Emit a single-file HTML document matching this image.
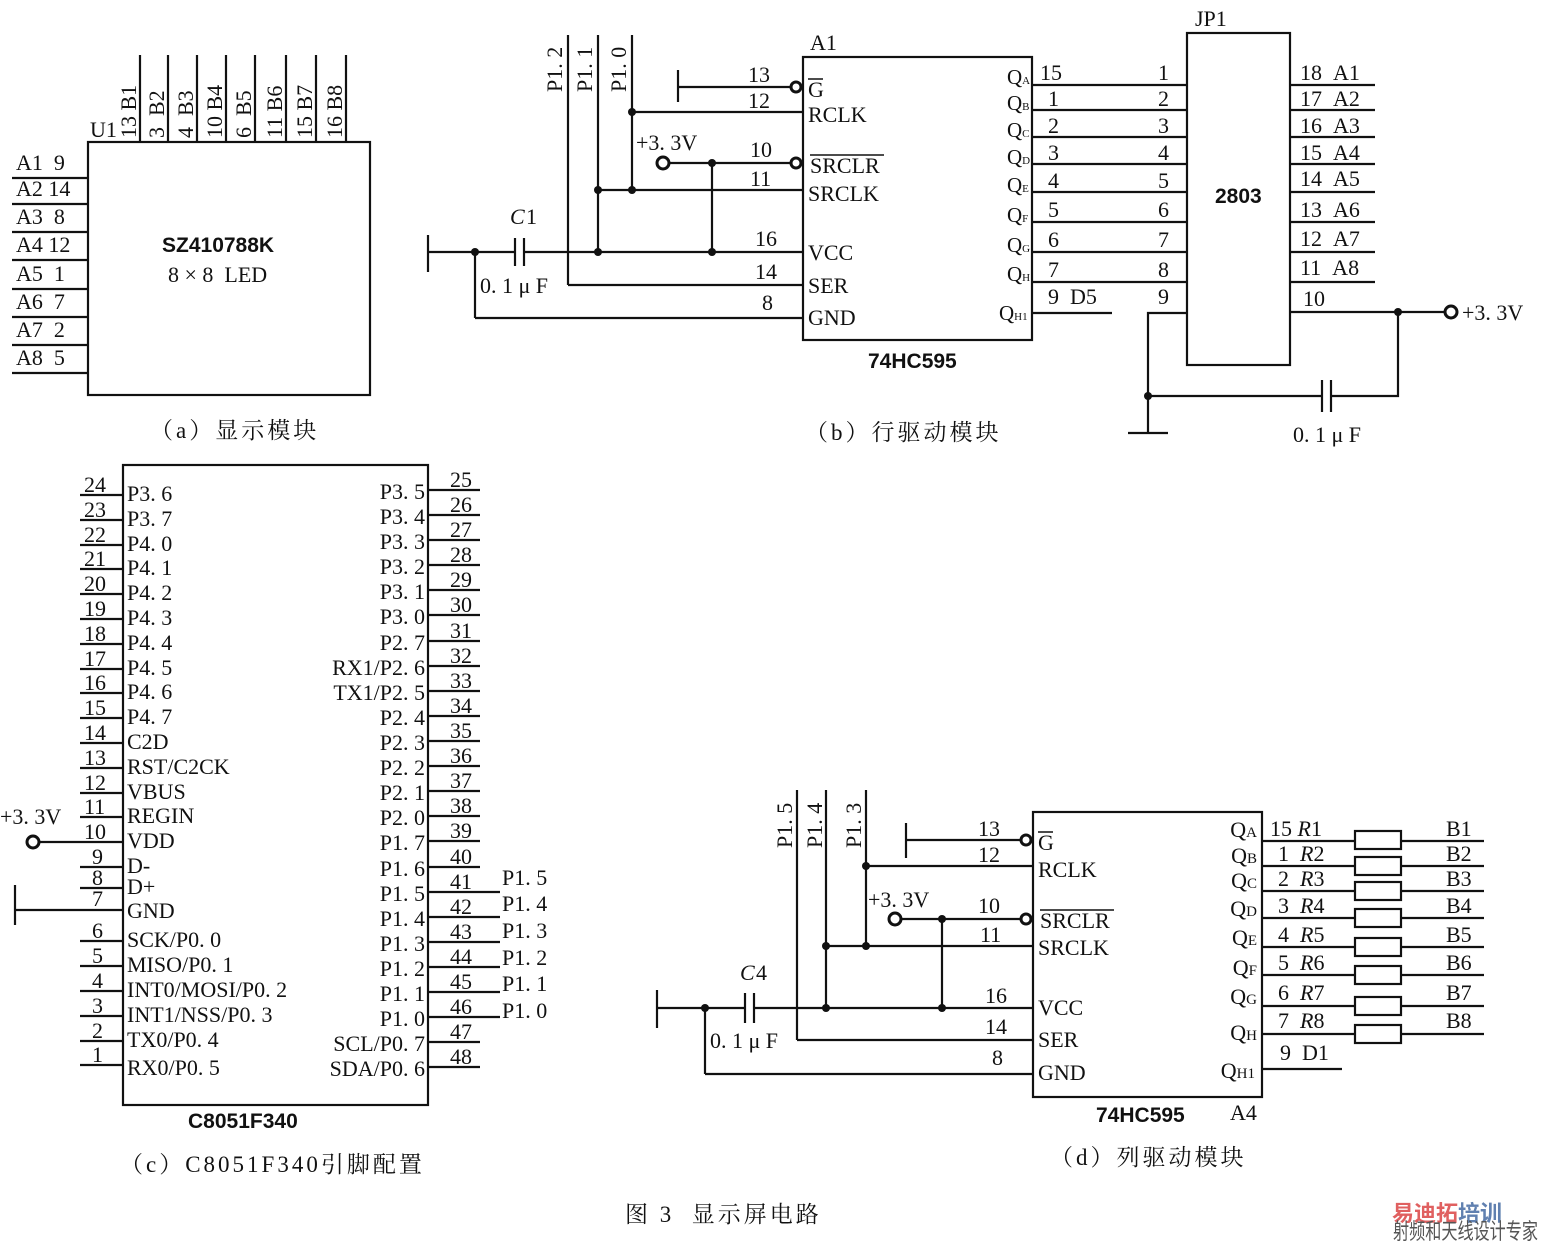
<!DOCTYPE html>
<html><head><meta charset="utf-8"><style>
body{margin:0;background:#fff}
svg{display:block}
text{font-family:"Liberation Serif","Noto Serif CJK SC",serif;font-size:22px;fill:#111}
.s{font-family:"Liberation Sans",sans-serif;font-weight:bold;font-size:21px}
.c{font-family:"Liberation Serif","Noto Serif CJK SC",serif;font-size:23px;letter-spacing:3px}
.q{font-size:21px}
.q tspan{font-size:11px}
line,polyline,rect,path{stroke:#111;stroke-width:2.2;fill:none}
.d{fill:#111;stroke:none}
.b{fill:#fff;stroke:#111;stroke-width:3}
</style></head><body>
<svg width="1546" height="1244" viewBox="0 0 1546 1244" xmlns="http://www.w3.org/2000/svg">
<!-- (a) -->
<rect x="88" y="142" width="282" height="253"/>
<text x="90" y="137">U1</text>
<g>
<line x1="140" y1="55" x2="140" y2="142"/><line x1="168" y1="55" x2="168" y2="142"/><line x1="197" y1="55" x2="197" y2="142"/><line x1="226" y1="55" x2="226" y2="142"/><line x1="255" y1="55" x2="255" y2="142"/><line x1="286" y1="55" x2="286" y2="142"/><line x1="316" y1="55" x2="316" y2="142"/><line x1="346" y1="55" x2="346" y2="142"/>
<text transform="translate(136,138) rotate(-90)">13 B1</text>
<text transform="translate(164,138) rotate(-90)">3 &#160;B2</text>
<text transform="translate(193,138) rotate(-90)">4 &#160;B3</text>
<text transform="translate(222,138) rotate(-90)">10 B4</text>
<text transform="translate(251,138) rotate(-90)">6 &#160;B5</text>
<text transform="translate(282,138) rotate(-90)">11 B6</text>
<text transform="translate(312,138) rotate(-90)">15 B7</text>
<text transform="translate(342,138) rotate(-90)">16 B8</text>
</g>
<g>
<line x1="12" y1="178" x2="88" y2="178"/><text x="16" y="170">A1 &#160;9</text>
<line x1="12" y1="204" x2="88" y2="204"/><text x="16" y="196">A2 14</text>
<line x1="12" y1="232" x2="88" y2="232"/><text x="16" y="224">A3 &#160;8</text>
<line x1="12" y1="260" x2="88" y2="260"/><text x="16" y="252">A4 12</text>
<line x1="12" y1="289" x2="88" y2="289"/><text x="16" y="281">A5 &#160;1</text>
<line x1="12" y1="317" x2="88" y2="317"/><text x="16" y="309">A6 &#160;7</text>
<line x1="12" y1="345" x2="88" y2="345"/><text x="16" y="337">A7 &#160;2</text>
<line x1="12" y1="373" x2="88" y2="373"/><text x="16" y="365">A8 &#160;5</text>
</g>
<text class="s" x="162" y="252">SZ410788K</text>
<text x="168" y="282">8 × 8 &#160;LED</text>
<text class="c" x="150" y="438">（a）显示模块</text>

<!-- (b) -->
<rect x="803" y="57" width="229" height="283"/>
<text x="810" y="50">A1</text>
<text class="s" x="868" y="368">74HC595</text>
<text x="808" y="97">G</text><line x1="808" y1="79" x2="823" y2="79" style="stroke-width:1.5"/>
<text x="808" y="122">RCLK</text>
<text x="810" y="173">SRCLR</text><line x1="810" y1="155" x2="884" y2="155" style="stroke-width:1.5"/>
<text x="808" y="201">SRCLK</text>
<text x="808" y="260">VCC</text>
<text x="808" y="293">SER</text>
<text x="808" y="325">GND</text>
<line x1="678" y1="70" x2="678" y2="102"/><line x1="678" y1="87" x2="790" y2="87"/><circle class="b" cx="796" cy="87" r="5"/><text x="748" y="82">13</text>
<line x1="632" y1="112" x2="803" y2="112"/><text x="748" y="108">12</text>
<circle class="b" cx="663" cy="163" r="6"/><line x1="669" y1="163" x2="790" y2="163"/><circle class="b" cx="796" cy="163" r="5"/><text x="750" y="157">10</text><text x="636" y="150">+3. 3V</text>
<line x1="598" y1="190" x2="803" y2="190"/><text x="750" y="186">11</text>
<line x1="428" y1="235" x2="428" y2="272"/><line x1="428" y1="252" x2="515" y2="252"/><line x1="515" y1="238" x2="515" y2="266"/><line x1="524" y1="238" x2="524" y2="266"/><line x1="524" y1="252" x2="803" y2="252"/><text x="755" y="246">16</text>
<text x="510" y="224" font-style="italic">C</text><text x="526" y="224">1</text>
<text x="480" y="293">0. 1 μ F</text>
<line x1="568" y1="35" x2="568" y2="285"/><line x1="568" y1="285" x2="803" y2="285"/><text x="755" y="279">14</text>
<line x1="475" y1="252" x2="475" y2="318"/><line x1="475" y1="318" x2="803" y2="318"/><text x="762" y="310">8</text>
<line x1="598" y1="35" x2="598" y2="252"/><line x1="632" y1="35" x2="632" y2="190"/><line x1="712" y1="163" x2="712" y2="252"/>
<text transform="translate(562,92) rotate(-90)">P1. 2</text>
<text transform="translate(592,92) rotate(-90)">P1. 1</text>
<text transform="translate(626,92) rotate(-90)">P1. 0</text>
<circle class="d" cx="475" cy="252" r="4"/><circle class="d" cx="598" cy="252" r="4"/><circle class="d" cx="712" cy="252" r="4"/><circle class="d" cx="598" cy="190" r="4"/><circle class="d" cx="632" cy="190" r="4"/><circle class="d" cx="632" cy="112" r="4"/><circle class="d" cx="712" cy="163" r="4"/>
<g>
<line x1="1032" y1="85" x2="1187" y2="85"/><line x1="1032" y1="110" x2="1187" y2="110"/><line x1="1032" y1="137" x2="1187" y2="137"/><line x1="1032" y1="164" x2="1187" y2="164"/><line x1="1032" y1="192" x2="1187" y2="192"/><line x1="1032" y1="222" x2="1187" y2="222"/><line x1="1032" y1="252" x2="1187" y2="252"/><line x1="1032" y1="282" x2="1187" y2="282"/>
<line x1="1032" y1="313" x2="1112" y2="313"/>
<text x="1040" y="80">15</text><text x="1048" y="106">1</text><text x="1048" y="133">2</text><text x="1048" y="160">3</text><text x="1048" y="188">4</text><text x="1048" y="217">5</text><text x="1048" y="247">6</text><text x="1048" y="277">7</text><text x="1048" y="304">9 &#160;D5</text>
<text x="1158" y="80">1</text><text x="1158" y="106">2</text><text x="1158" y="133">3</text><text x="1158" y="160">4</text><text x="1158" y="188">5</text><text x="1158" y="217">6</text><text x="1158" y="247">7</text><text x="1158" y="277">8</text><text x="1158" y="304">9</text>
<text class="q" x="1007" y="84">Q<tspan>A</tspan></text><text class="q" x="1007" y="110">Q<tspan>B</tspan></text><text class="q" x="1007" y="137">Q<tspan>C</tspan></text><text class="q" x="1007" y="164">Q<tspan>D</tspan></text><text class="q" x="1007" y="192">Q<tspan>E</tspan></text><text class="q" x="1007" y="222">Q<tspan>F</tspan></text><text class="q" x="1007" y="252">Q<tspan>G</tspan></text><text class="q" x="1007" y="281">Q<tspan>H</tspan></text><text class="q" x="999" y="320">Q<tspan>H1</tspan></text>
</g>
<rect x="1187" y="33" width="103" height="332"/>
<text x="1195" y="26">JP1</text>
<text class="s" x="1215" y="203">2803</text>
<g>
<line x1="1290" y1="85" x2="1375" y2="85"/><text x="1300" y="80">18 &#160;A1</text>
<line x1="1290" y1="110" x2="1375" y2="110"/><text x="1300" y="106">17 &#160;A2</text>
<line x1="1290" y1="137" x2="1375" y2="137"/><text x="1300" y="133">16 &#160;A3</text>
<line x1="1290" y1="164" x2="1375" y2="164"/><text x="1300" y="160">15 &#160;A4</text>
<line x1="1290" y1="192" x2="1375" y2="192"/><text x="1300" y="186">14 &#160;A5</text>
<line x1="1290" y1="222" x2="1375" y2="222"/><text x="1300" y="217">13 &#160;A6</text>
<line x1="1290" y1="252" x2="1375" y2="252"/><text x="1300" y="246">12 &#160;A7</text>
<line x1="1290" y1="282" x2="1375" y2="282"/><text x="1300" y="275">11 &#160;A8</text>
<line x1="1290" y1="312" x2="1445" y2="312"/><text x="1303" y="306">10</text>
<circle class="b" cx="1451" cy="312" r="6"/><text x="1462" y="320">+3. 3V</text>
</g>
<polyline points="1187,313 1148,313 1148,433"/><line x1="1128" y1="433" x2="1168" y2="433"/>
<line x1="1148" y1="396" x2="1322" y2="396"/><line x1="1322" y1="380" x2="1322" y2="412"/><line x1="1331" y1="380" x2="1331" y2="412"/><polyline points="1331,396 1398,396 1398,312"/>
<circle class="d" cx="1148" cy="396" r="4"/><circle class="d" cx="1398" cy="312" r="4"/>
<text x="1293" y="442">0. 1 μ F</text>
<text class="c" x="805" y="440">（b）行驱动模块</text>

<!-- (c) -->
<rect x="123" y="465" width="305" height="640"/>
<text class="s" x="188" y="1128">C8051F340</text>
<g>
<line x1="80" y1="495" x2="123" y2="495"/><text x="84" y="492">24</text><text x="127" y="501">P3. 6</text>
<line x1="80" y1="520" x2="123" y2="520"/><text x="84" y="517">23</text><text x="127" y="526">P3. 7</text>
<line x1="80" y1="545" x2="123" y2="545"/><text x="84" y="542">22</text><text x="127" y="551">P4. 0</text>
<line x1="80" y1="569" x2="123" y2="569"/><text x="84" y="566">21</text><text x="127" y="575">P4. 1</text>
<line x1="80" y1="594" x2="123" y2="594"/><text x="84" y="591">20</text><text x="127" y="600">P4. 2</text>
<line x1="80" y1="619" x2="123" y2="619"/><text x="84" y="616">19</text><text x="127" y="625">P4. 3</text>
<line x1="80" y1="644" x2="123" y2="644"/><text x="84" y="641">18</text><text x="127" y="650">P4. 4</text>
<line x1="80" y1="669" x2="123" y2="669"/><text x="84" y="666">17</text><text x="127" y="675">P4. 5</text>
<line x1="80" y1="693" x2="123" y2="693"/><text x="84" y="690">16</text><text x="127" y="699">P4. 6</text>
<line x1="80" y1="718" x2="123" y2="718"/><text x="84" y="715">15</text><text x="127" y="724">P4. 7</text>
<line x1="80" y1="743" x2="123" y2="743"/><text x="84" y="740">14</text><text x="127" y="749">C2D</text>
<line x1="80" y1="768" x2="123" y2="768"/><text x="84" y="765">13</text><text x="127" y="774">RST/C2CK</text>
<line x1="80" y1="793" x2="123" y2="793"/><text x="84" y="790">12</text><text x="127" y="799">VBUS</text>
<line x1="80" y1="817" x2="123" y2="817"/><text x="84" y="814">11</text><text x="127" y="823">REGIN</text>
<line x1="40" y1="842" x2="123" y2="842"/><text x="84" y="839">10</text><text x="127" y="848">VDD</text>
<circle class="b" cx="33" cy="842" r="6"/><text x="0" y="824">+3. 3V</text>
<line x1="80" y1="867" x2="123" y2="867"/><text x="92" y="864">9</text><text x="127" y="873">D-</text>
<line x1="80" y1="888" x2="123" y2="888"/><text x="92" y="885">8</text><text x="127" y="894">D+</text>
<line x1="15" y1="910" x2="123" y2="910"/><line x1="15" y1="885" x2="15" y2="925"/><text x="92" y="906">7</text><text x="127" y="918">GND</text>
<line x1="80" y1="941" x2="123" y2="941"/><text x="92" y="938">6</text><text x="127" y="947">SCK/P0. 0</text>
<line x1="80" y1="966" x2="123" y2="966"/><text x="92" y="963">5</text><text x="127" y="972">MISO/P0. 1</text>
<line x1="80" y1="991" x2="123" y2="991"/><text x="92" y="988">4</text><text x="127" y="997">INT0/MOSI/P0. 2</text>
<line x1="80" y1="1016" x2="123" y2="1016"/><text x="92" y="1013">3</text><text x="127" y="1022">INT1/NSS/P0. 3</text>
<line x1="80" y1="1041" x2="123" y2="1041"/><text x="92" y="1038">2</text><text x="127" y="1047">TX0/P0. 4</text>
<line x1="80" y1="1065" x2="123" y2="1065"/><text x="92" y="1062">1</text><text x="127" y="1075">RX0/P0. 5</text>
</g>
<g text-anchor="end">
<line x1="428" y1="490" x2="480" y2="490"/><text x="472" y="487">25</text><text x="425" y="499">P3. 5</text>
<line x1="428" y1="515" x2="480" y2="515"/><text x="472" y="512">26</text><text x="425" y="524">P3. 4</text>
<line x1="428" y1="540" x2="480" y2="540"/><text x="472" y="537">27</text><text x="425" y="549">P3. 3</text>
<line x1="428" y1="565" x2="480" y2="565"/><text x="472" y="562">28</text><text x="425" y="574">P3. 2</text>
<line x1="428" y1="590" x2="480" y2="590"/><text x="472" y="587">29</text><text x="425" y="599">P3. 1</text>
<line x1="428" y1="615" x2="480" y2="615"/><text x="472" y="612">30</text><text x="425" y="624">P3. 0</text>
<line x1="428" y1="641" x2="480" y2="641"/><text x="472" y="638">31</text><text x="425" y="650">P2. 7</text>
<line x1="428" y1="666" x2="480" y2="666"/><text x="472" y="663">32</text><text x="425" y="675">RX1/P2. 6</text>
<line x1="428" y1="691" x2="480" y2="691"/><text x="472" y="688">33</text><text x="425" y="700">TX1/P2. 5</text>
<line x1="428" y1="716" x2="480" y2="716"/><text x="472" y="713">34</text><text x="425" y="725">P2. 4</text>
<line x1="428" y1="741" x2="480" y2="741"/><text x="472" y="738">35</text><text x="425" y="750">P2. 3</text>
<line x1="428" y1="766" x2="480" y2="766"/><text x="472" y="763">36</text><text x="425" y="775">P2. 2</text>
<line x1="428" y1="791" x2="480" y2="791"/><text x="472" y="788">37</text><text x="425" y="800">P2. 1</text>
<line x1="428" y1="816" x2="480" y2="816"/><text x="472" y="813">38</text><text x="425" y="825">P2. 0</text>
<line x1="428" y1="841" x2="480" y2="841"/><text x="472" y="838">39</text><text x="425" y="850">P1. 7</text>
<line x1="428" y1="867" x2="480" y2="867"/><text x="472" y="864">40</text><text x="425" y="876">P1. 6</text>
<line x1="428" y1="892" x2="500" y2="892"/><text x="472" y="889">41</text><text x="425" y="901">P1. 5</text>
<line x1="428" y1="917" x2="500" y2="917"/><text x="472" y="914">42</text><text x="425" y="926">P1. 4</text>
<line x1="428" y1="942" x2="500" y2="942"/><text x="472" y="939">43</text><text x="425" y="951">P1. 3</text>
<line x1="428" y1="967" x2="500" y2="967"/><text x="472" y="964">44</text><text x="425" y="976">P1. 2</text>
<line x1="428" y1="992" x2="500" y2="992"/><text x="472" y="989">45</text><text x="425" y="1001">P1. 1</text>
<line x1="428" y1="1017" x2="500" y2="1017"/><text x="472" y="1014">46</text><text x="425" y="1026">P1. 0</text>
<line x1="428" y1="1042" x2="480" y2="1042"/><text x="472" y="1039">47</text><text x="425" y="1051">SCL/P0. 7</text>
<line x1="428" y1="1067" x2="480" y2="1067"/><text x="472" y="1064">48</text><text x="425" y="1076">SDA/P0. 6</text>
</g>
<text x="502" y="885">P1. 5</text><text x="502" y="911">P1. 4</text><text x="502" y="938">P1. 3</text><text x="502" y="965">P1. 2</text><text x="502" y="991">P1. 1</text><text x="502" y="1018">P1. 0</text>
<text class="c" x="120" y="1172">（c）C8051F340引脚配置</text>

<!-- (d) -->
<rect x="1033" y="812" width="229" height="285"/>
<text class="s" x="1096" y="1122">74HC595</text><text x="1230" y="1120">A4</text>
<text x="1038" y="850">G</text><line x1="1038" y1="832" x2="1053" y2="832" style="stroke-width:1.5"/>
<text x="1038" y="877">RCLK</text>
<text x="1040" y="928">SRCLR</text><line x1="1040" y1="910" x2="1114" y2="910" style="stroke-width:1.5"/>
<text x="1038" y="955">SRCLK</text>
<text x="1038" y="1015">VCC</text>
<text x="1038" y="1047">SER</text>
<text x="1038" y="1080">GND</text>
<line x1="906" y1="823" x2="906" y2="858"/><line x1="906" y1="840" x2="1020" y2="840"/><circle class="b" cx="1026" cy="840" r="5"/><text x="978" y="836">13</text>
<line x1="866" y1="866" x2="1033" y2="866"/><text x="978" y="862">12</text>
<circle class="b" cx="895" cy="919" r="6"/><line x1="901" y1="919" x2="1020" y2="919"/><circle class="b" cx="1026" cy="919" r="5"/><text x="978" y="913">10</text><text x="868" y="907">+3. 3V</text>
<line x1="826" y1="946" x2="1033" y2="946"/><text x="980" y="942">11</text>
<line x1="657" y1="990" x2="657" y2="1028"/><line x1="657" y1="1008" x2="745" y2="1008"/><line x1="745" y1="993" x2="745" y2="1023"/><line x1="754" y1="993" x2="754" y2="1023"/><line x1="754" y1="1008" x2="1033" y2="1008"/><text x="985" y="1003">16</text>
<text x="740" y="980" font-style="italic">C</text><text x="756" y="980">4</text>
<text x="710" y="1048">0. 1 μ F</text>
<line x1="797" y1="790" x2="797" y2="1040"/><line x1="797" y1="1040" x2="1033" y2="1040"/><text x="985" y="1034">14</text>
<line x1="705" y1="1008" x2="705" y2="1074"/><line x1="705" y1="1074" x2="1033" y2="1074"/><text x="992" y="1065">8</text>
<line x1="826" y1="790" x2="826" y2="1008"/><line x1="866" y1="790" x2="866" y2="946"/><line x1="942" y1="919" x2="942" y2="1008"/>
<text transform="translate(792,848) rotate(-90)">P1. 5</text>
<text transform="translate(822,848) rotate(-90)">P1. 4</text>
<text transform="translate(861,848) rotate(-90)">P1. 3</text>
<circle class="d" cx="705" cy="1008" r="4"/><circle class="d" cx="826" cy="1008" r="4"/><circle class="d" cx="942" cy="1008" r="4"/><circle class="d" cx="826" cy="946" r="4"/><circle class="d" cx="866" cy="946" r="4"/><circle class="d" cx="866" cy="866" r="4"/><circle class="d" cx="942" cy="919" r="4"/>
<g>
<g font-size="20" text-anchor="end">
<text x="1257" y="837" font-size="20">Q<tspan font-size="15">A</tspan></text><text x="1257" y="863" font-size="20">Q<tspan font-size="15">B</tspan></text><text x="1257" y="888" font-size="20">Q<tspan font-size="15">C</tspan></text><text x="1257" y="916" font-size="20">Q<tspan font-size="15">D</tspan></text><text x="1257" y="945" font-size="20">Q<tspan font-size="15">E</tspan></text><text x="1257" y="975" font-size="20">Q<tspan font-size="15">F</tspan></text><text x="1257" y="1004" font-size="20">Q<tspan font-size="15">G</tspan></text><text x="1257" y="1040" font-size="20">Q<tspan font-size="15">H</tspan></text><text x="1255" y="1078" font-size="20">Q<tspan font-size="15">H1</tspan></text>
</g>
<line x1="1262" y1="841" x2="1355" y2="841"/><rect x="1355" y="831" width="46" height="18"/><line x1="1401" y1="841" x2="1484" y2="841"/><text x="1270" y="836">15 <tspan font-style="italic">R</tspan>1</text><text x="1446" y="836">B1</text>
<line x1="1262" y1="866" x2="1355" y2="866"/><rect x="1355" y="857" width="46" height="18"/><line x1="1401" y1="866" x2="1484" y2="866"/><text x="1278" y="861">1 &#160;<tspan font-style="italic">R</tspan>2</text><text x="1446" y="861">B2</text>
<line x1="1262" y1="891" x2="1355" y2="891"/><rect x="1355" y="882" width="46" height="18"/><line x1="1401" y1="891" x2="1484" y2="891"/><text x="1278" y="886">2 &#160;<tspan font-style="italic">R</tspan>3</text><text x="1446" y="886">B3</text>
<line x1="1262" y1="918" x2="1355" y2="918"/><rect x="1355" y="909" width="46" height="18"/><line x1="1401" y1="918" x2="1484" y2="918"/><text x="1278" y="913">3 &#160;<tspan font-style="italic">R</tspan>4</text><text x="1446" y="913">B4</text>
<line x1="1262" y1="947" x2="1355" y2="947"/><rect x="1355" y="938" width="46" height="18"/><line x1="1401" y1="947" x2="1484" y2="947"/><text x="1278" y="942">4 &#160;<tspan font-style="italic">R</tspan>5</text><text x="1446" y="942">B5</text>
<line x1="1262" y1="975" x2="1355" y2="975"/><rect x="1355" y="966" width="46" height="18"/><line x1="1401" y1="975" x2="1484" y2="975"/><text x="1278" y="970">5 &#160;<tspan font-style="italic">R</tspan>6</text><text x="1446" y="970">B6</text>
<line x1="1262" y1="1006" x2="1355" y2="1006"/><rect x="1355" y="997" width="46" height="18"/><line x1="1401" y1="1006" x2="1484" y2="1006"/><text x="1278" y="1000">6 &#160;<tspan font-style="italic">R</tspan>7</text><text x="1446" y="1000">B7</text>
<line x1="1262" y1="1034" x2="1355" y2="1034"/><rect x="1355" y="1025" width="46" height="18"/><line x1="1401" y1="1034" x2="1484" y2="1034"/><text x="1278" y="1028">7 &#160;<tspan font-style="italic">R</tspan>8</text><text x="1446" y="1028">B8</text>
<line x1="1262" y1="1069" x2="1342" y2="1069"/><text x="1280" y="1060">9 &#160;D1</text>
</g>
<text class="c" x="1050" y="1165">（d）列驱动模块</text>

<text class="c" x="625" y="1222" font-size="26">图 3 &#160;显示屏电路</text>
<text x="1392" y="1221" font-size="28" font-weight="bold" style="fill:#e06060;font-family:'Noto Sans CJK SC',sans-serif"><tspan>易迪拓</tspan><tspan style="fill:#6080b0">培训</tspan></text>
<text x="1393" y="1239" font-size="14" textLength="145" lengthAdjust="spacingAndGlyphs" style="fill:#555;font-family:'Noto Sans CJK SC',sans-serif">射频和天线设计专家</text>
</svg>
</body></html>
